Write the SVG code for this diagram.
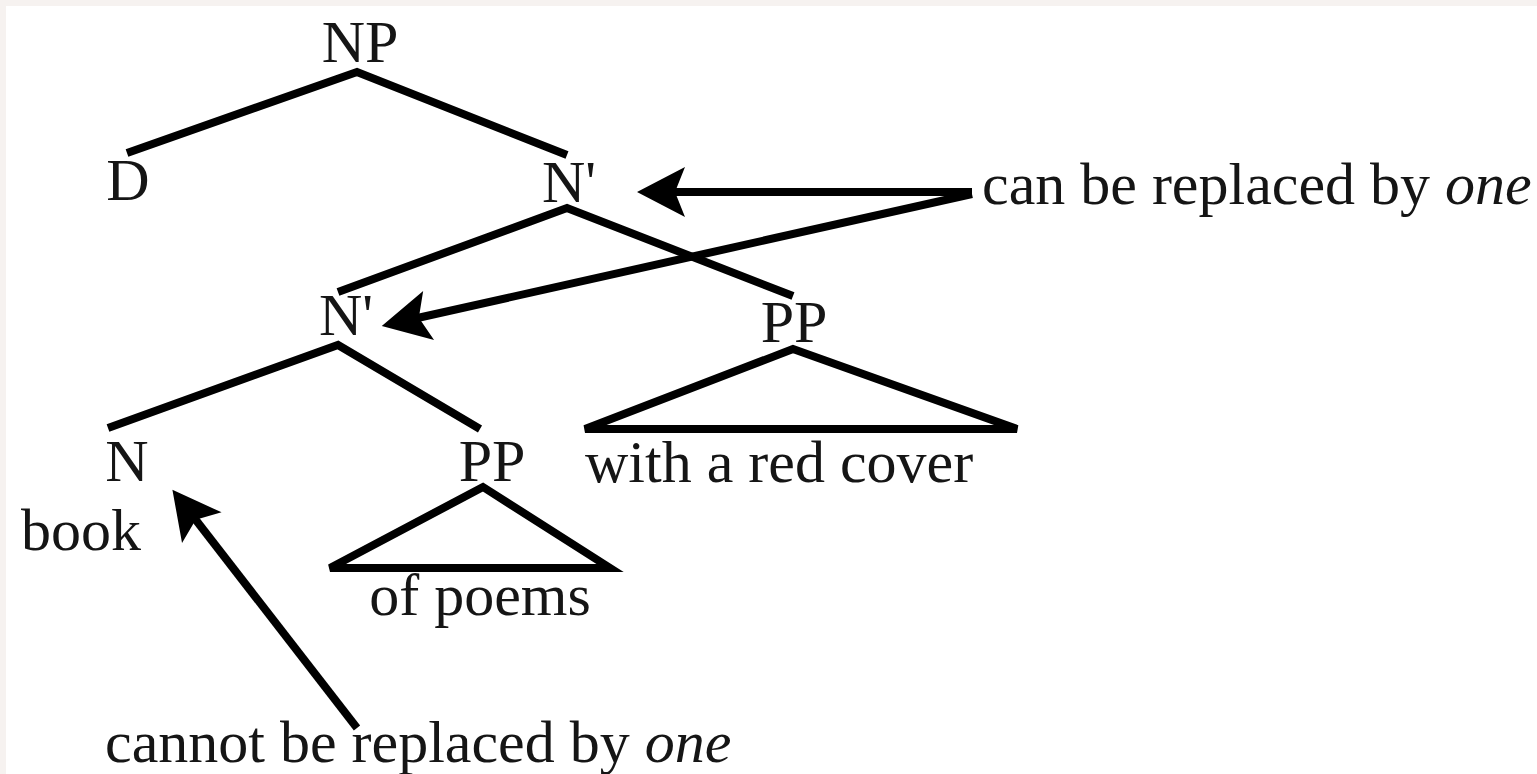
<svg xmlns="http://www.w3.org/2000/svg" width="1537" height="774" viewBox="0 0 1537 774">
  <style>
    .lbl { font-family: "Liberation Serif", "Times New Roman", serif; font-size: 60px; fill: #151515; }
    .mid { text-anchor: middle; }
    .edge { stroke: #000; stroke-width: 8; fill: none; stroke-linejoin: miter; }
    .arrow { stroke: #000; stroke-width: 8; fill: none; marker-end: url(#head); }
  </style>
  <defs>
    <marker id="head" markerUnits="userSpaceOnUse" viewBox="-24 -30 60 60" refX="0" refY="0" markerWidth="60" markerHeight="60" orient="auto" overflow="visible">
      <path d="M32,0 L-16,-25 L-6,0 L-16,25 Z" fill="#000"/>
    </marker>
  </defs>

  <!-- page background with a faint frame on the top and left -->
  <rect x="0" y="0" width="1537" height="774" fill="#f6f2f0"/>
  <rect x="6" y="6" width="1531" height="768" fill="#ffffff"/>

  <!-- tree branches and arrows -->
  <g id="connectors">
    <polyline class="edge" points="127,153 357,72 567,155"/>
    <polyline class="edge" points="338,292 567,208 793,296"/>
    <polyline class="edge" points="108,428 338,345 480,429"/>
    <path class="edge" d="M793,349 L585,429 L1017,429 Z"/>
    <path class="edge" d="M483,487 L330,568 L610,568 Z"/>
    <line class="arrow" x1="972" y1="192" x2="669" y2="192"/>
    <line class="arrow" x1="972" y1="194" x2="413" y2="319"/>
    <line class="arrow" x1="357" y1="728" x2="192" y2="515"/>
  </g>

  <g id="np"><text class="lbl mid" x="360" y="62">NP</text></g>
  <g id="d"><text class="lbl mid" x="128" y="200">D</text></g>
  <g id="nbar-top"><text class="lbl mid" x="569" y="202">N'</text></g>
  <g id="nbar-low"><text class="lbl mid" x="346" y="335">N'</text></g>
  <g id="pp-right"><text class="lbl mid" x="794" y="342">PP</text></g>
  <g id="pp-right-yield"><text class="lbl" x="585" y="482">with a red cover</text></g>
  <g id="n"><text class="lbl mid" x="127" y="481">N</text></g>
  <g id="book"><text class="lbl" x="21" y="550">book</text></g>
  <g id="pp-low"><text class="lbl mid" x="492" y="481">PP</text></g>
  <g id="pp-low-yield"><text class="lbl mid" x="480" y="615">of poems</text></g>
  <g id="note-can"><text class="lbl" x="982" y="204">can be replaced by <tspan font-style="italic">one</tspan></text></g>
  <g id="note-cannot"><text class="lbl" x="105" y="762">cannot be replaced by <tspan font-style="italic">one</tspan></text></g>
</svg>
